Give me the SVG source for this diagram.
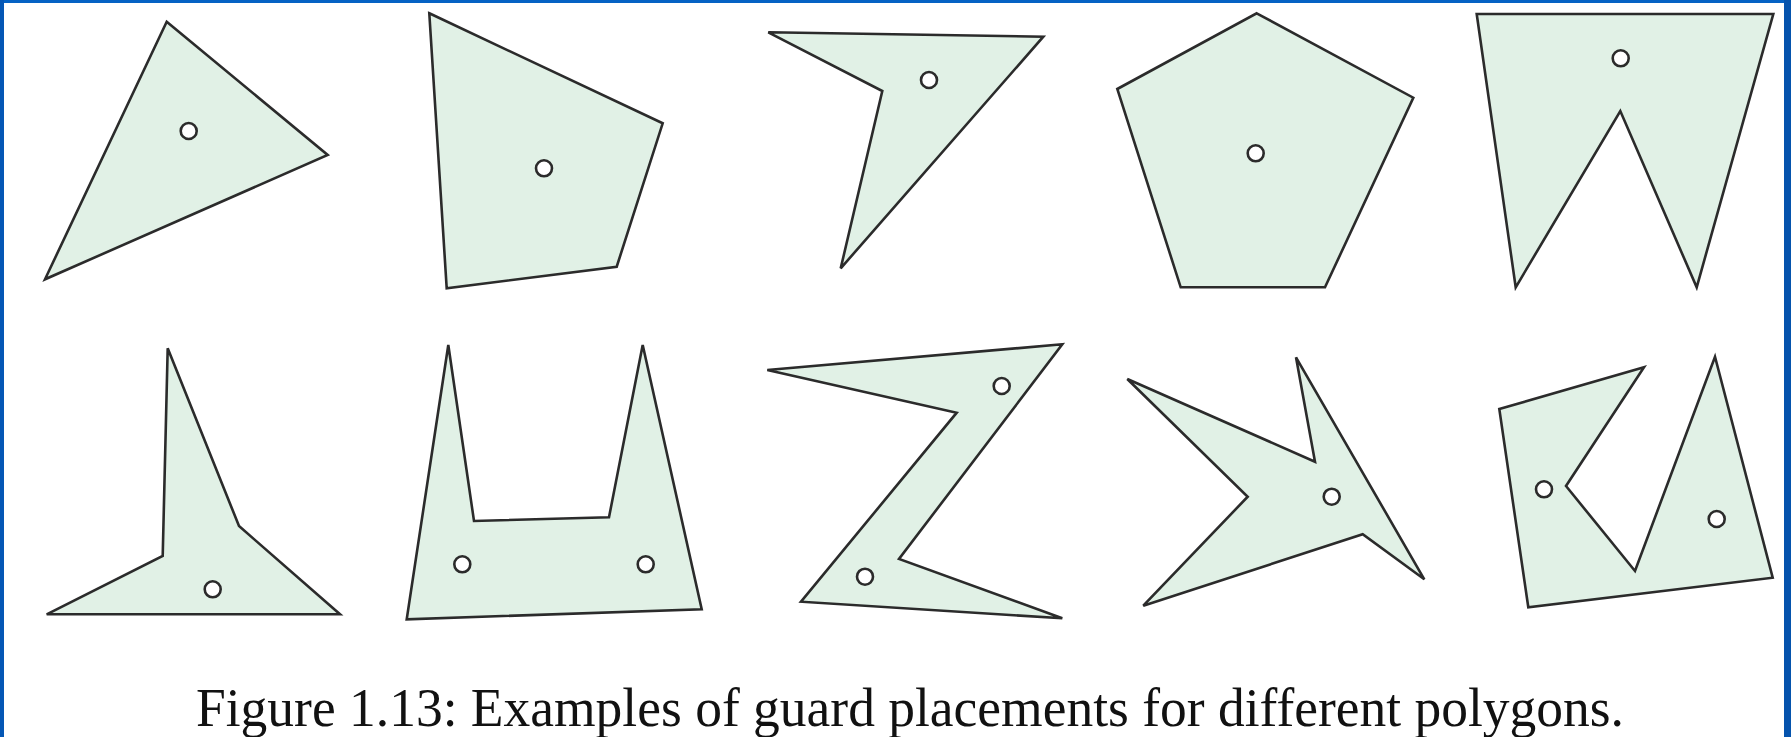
<svg xmlns="http://www.w3.org/2000/svg" width="1791" height="737" viewBox="0 0 1791 737">
<style>
.poly{fill:#e1f1e6;stroke:#2b2b2b;stroke-width:2.6;stroke-linejoin:miter}
.guard{fill:#ffffff;stroke:#2b2b2b;stroke-width:2.6}
.cap{font-family:"Liberation Serif","DejaVu Serif",serif;font-size:54px;fill:#111111}
</style>
<rect x="0" y="0" width="1791" height="737" fill="#ffffff"/>
<rect x="0" y="0" width="1791" height="3" fill="#0562c4"/>
<rect x="0" y="0" width="4" height="737" fill="#0557b5"/>
<rect x="1784" y="0" width="7" height="737" fill="#0553ad"/>
<g id="p1"><polygon class="poly" points="166.7,21.7 327.7,155 45,279.3"/><circle class="guard" cx="188.7" cy="131" r="8"/></g>
<g id="p2"><polygon class="poly" points="429.3,13.3 662.7,123.3 616.7,266.7 446.7,288.3"/><circle class="guard" cx="544" cy="168.3" r="8"/></g>
<g id="p3"><polygon class="poly" points="768.3,32.3 1043.3,36.7 840.7,268.3 882.3,91"/><circle class="guard" cx="929" cy="80" r="8"/></g>
<g id="p4"><polygon class="poly" points="1256.7,13.3 1413.3,97.7 1325,287.3 1180.7,287.3 1117.3,89"/><circle class="guard" cx="1255.7" cy="153.3" r="8"/></g>
<g id="p5"><polygon class="poly" points="1476.7,14 1773.3,14 1696.7,287.3 1620.3,111 1515.7,287.3"/><circle class="guard" cx="1620.7" cy="58.3" r="8"/></g>
<g id="p6"><polygon class="poly" points="167.7,348.3 239,526 340,614.3 46.7,614.3 162.7,556"/><circle class="guard" cx="212.7" cy="589.3" r="8"/></g>
<g id="p7"><polygon class="poly" points="448.3,345 474,521 609,517.3 642.7,345 701.7,609.3 406.7,619.3"/><circle class="guard" cx="462.3" cy="564.3" r="8"/><circle class="guard" cx="645.7" cy="564.3" r="8"/></g>
<g id="p8"><polygon class="poly" points="767.3,370 1062.3,344.3 899,559 1062.3,618.3 801,601.7 956.7,412.7"/><circle class="guard" cx="1001.7" cy="386" r="8"/><circle class="guard" cx="865" cy="576.7" r="8"/></g>
<g id="p9"><polygon class="poly" points="1127.3,379 1315,461.7 1296,357.3 1424.3,579.3 1362.7,534.3 1143.3,605.7 1247.7,496.7"/><circle class="guard" cx="1331.7" cy="496.7" r="8"/></g>
<g id="p10"><polygon class="poly" points="1499.3,409 1644,367.3 1566,486 1635,571 1715,356.7 1772.7,577.7 1528.3,607.3"/><circle class="guard" cx="1544" cy="489.3" r="8"/><circle class="guard" cx="1716.7" cy="519" r="8"/></g>
<g id="connectors"></g>
<text class="cap" x="196" y="726" textLength="1428" lengthAdjust="spacingAndGlyphs">Figure 1.13: Examples of guard placements for different polygons.</text>
</svg>
